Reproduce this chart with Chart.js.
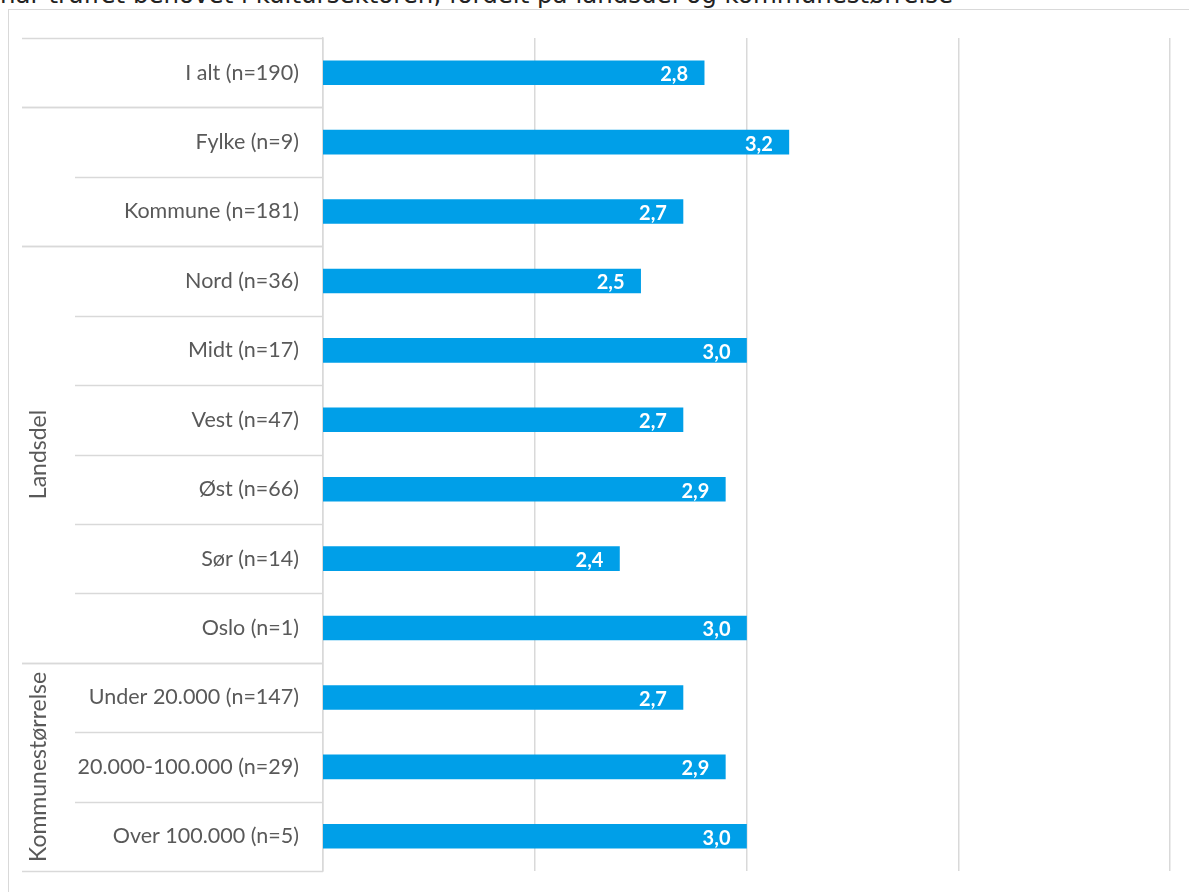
<!DOCTYPE html>
<html>
<head>
<meta charset="utf-8">
<script src="https://cdn.jsdelivr.net/npm/chart.js@4/dist/chart.umd.min.js"></script>
<style>
  html, body { margin: 0; padding: 0; background: #fff; overflow: hidden; }
  #wrap { position: relative; width: 1189px; height: 892px; }
  #title { position: absolute; left: 0; top: -17px; font-family: "DejaVu Sans", sans-serif; font-size: 24.5px; line-height: 1; color: #222; white-space: nowrap; }
  #box { position: absolute; left: 8px; top: 9px; width: 1200px; height: 900px; border: 1.5px solid #d9d9d9; box-sizing: border-box; }
  #myChart { position: absolute; left: 0; top: 0; }
</style>
</head>
<body>
<div id="wrap">
  <div id="title">har truffet behovet i kultursektoren, fordelt på landsdel og kommunestørrelse</div>
  <div id="box"></div>
  <canvas id="myChart" width="1189" height="892"></canvas>
</div>
<script>
var labels = ['I alt (n=190)',
              'Fylke (n=9)',
              'Kommune (n=181)',
              'Nord (n=36)',
              'Midt (n=17)',
              'Vest (n=47)',
              'Øst (n=66)',
              'Sør (n=14)',
              'Oslo (n=1)',
              'Under 20.000 (n=147)',
              '20.000-100.000 (n=29)',
              'Over 100.000 (n=5)'];
var values = [2.8, 3.2, 2.7, 2.5, 3.0, 2.7, 2.9, 2.4, 3.0, 2.7, 2.9, 3.0];
var groupNames = ['', '', 'Landsdel', 'Kommunestørrelse'];
var groupStart = [0, 1, 3, 9];
var groupEnd = [0, 2, 8, 11];
var axisMin = 1;
var axisMax = 5;

var gridColor = '#d9d9d9';
var textColor = '#595959';
var labelFont = 'Lato, "Noto Sans", sans-serif';

// separator lines and rotated group names to the left of the bars
var groupPlugin = {
    id: 'groups',
    afterDraw: function(chart) {
        var c = chart.ctx;
        var y = chart.scales.y;
        var right = chart.chartArea.left;
        c.save();
        c.strokeStyle = gridColor;
        c.lineWidth = 1.5;
        for (var g = 0; g < groupNames.length; g++) {
            for (var i = groupStart[g]; i <= groupEnd[g] + 1; i++) {
                var py = Math.round(y.getPixelForValue(i - 0.5)) + 0.5;
                var outer = (i === groupStart[g] || i === groupEnd[g] + 1);
                c.beginPath();
                c.moveTo(outer ? 22 : 75, py);
                c.lineTo(right, py);
                c.stroke();
            }
            if (groupNames[g]) {
                var mid = (y.getPixelForValue(groupStart[g] - 0.5) + y.getPixelForValue(groupEnd[g] + 0.5)) / 2;
                c.save();
                c.translate(39, mid);
                c.rotate(-Math.PI / 2);
                c.fillStyle = textColor;
                c.font = '23px ' + labelFont;
                c.textAlign = 'center';
                c.textBaseline = 'middle';
                c.fillText(groupNames[g], 0, 0);
                c.restore();
            }
        }
        // value labels inside the bar ends
        var meta = chart.getDatasetMeta(0);
        c.fillStyle = '#ffffff';
        c.font = 'bold 20px ' + labelFont;
        c.textAlign = 'right';
        c.textBaseline = 'middle';
        meta.data.forEach(function(bar, i) {
            c.fillText(values[i].toFixed(1).replace('.', ','), bar.x - 16, bar.y + 2);
        });
        c.restore();
    }
};

var ctx = document.getElementById('myChart');
var myChart = new Chart(ctx, {
    type: 'bar',
    data: {
        labels: labels,
        datasets: [{
            data: values,
            backgroundColor: '#009fe8',
            borderWidth: 0,
            barThickness: 24
        }]
    },
    options: {
        indexAxis: 'y',
        responsive: false,
        animation: false,
        layout: { padding: { top: 38, bottom: 21, right: 19, left: 0 } },
        plugins: {
            legend: { display: false },
            tooltip: { enabled: false }
        },
        scales: {
            x: {
                min: axisMin,
                max: axisMax,
                afterFit: function(scale) {
                    scale.height = 0;
                    scale.paddingLeft = 0;
                    scale.paddingRight = 0;
                },
                ticks: { display: false, stepSize: 1 },
                grid: { color: gridColor, lineWidth: 1.5, drawTicks: false },
                border: { display: false }
            },
            y: {
                afterFit: function(scale) {
                    scale.width = 323;
                    scale.paddingTop = 0;
                    scale.paddingBottom = 0;
                },
                ticks: {
                    color: textColor,
                    font: { family: labelFont, size: 21.5 },
                    padding: 24
                },
                grid: { display: false, drawTicks: false },
                border: { display: true, color: gridColor, width: 1.5 }
            }
        }
    },
    plugins: [groupPlugin]
});
</script>
</body>
</html>
